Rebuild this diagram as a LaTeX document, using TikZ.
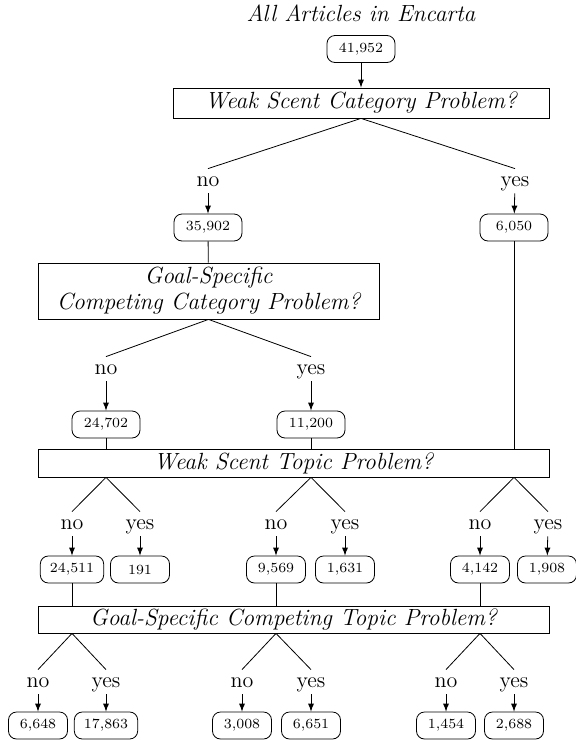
\documentclass[tikz,border=0pt]{standalone}
\usepackage{fontspec}
\begin{document}
\begin{tikzpicture}[x=0.5pt, y=-0.5pt,
  cnt/.style={draw, rounded corners=4pt, minimum width=29.5pt, minimum height=13.5pt, inner xsep=4.75pt, inner ysep=0pt, font=\fontsize{7}{8}\selectfont\addfontfeature{LetterSpace=5.7}},
  wcnt/.style={cnt, minimum width=34pt},
  qst/.style={draw, inner sep=0pt, align=center, font=\fontsize{11.7}{13}\selectfont\itshape},
  ans/.style={inner sep=1pt, text height=7.5pt, text depth=2.5pt, font=\fontsize{11}{13}\selectfont}]
\useasboundingbox (0,0) rectangle (575,740);
\node[font=\fontsize{11.7}{13}\selectfont\itshape] (ttl) at (361,13){All Articles in Encarta};
\node[wcnt] (num0) at (361,49){41,952};
\node[qst, minimum width=188pt, minimum height=15pt] (q0) at (361,103){Weak Scent Category Problem?};
\draw[-latex](num0) -- (q0);
\node[ans] (ans0) at (208,181){no};
\node[ans] (ans1) at (515,181){yes};
\draw[](q0.south) -- (ans0.north);
\draw[](q0.south) -- (ans1.north);
\node[wcnt] (num1) at (208,227.5){35,902};
\node[wcnt] (num2) at (514,227.5){6,050};
\draw[-latex](ans0) -- (num1);
\draw[-latex](ans1) -- (num2);
\node[qst, minimum width=170.5pt, minimum height=28pt] (q1) at (208.5,291){Goal-Specific\\Competing Category Problem?};
\draw[](num1) -- (q1);
\node[ans] (ans2) at (106,369){no};
\node[ans] (ans3) at (311,369){yes};
\draw[](q1.south) -- (ans2.north);
\draw[](q1.south) -- (ans3.north);
\node[wcnt] (num3) at (106,424.5){24,702};
\node[wcnt] (num4) at (311,424.5){11,200};
\draw[-latex](ans2) -- (num3);
\draw[-latex](ans3) -- (num4);
\node[qst, minimum width=255.5pt, minimum height=14pt] (q2) at (293.5,463){Weak Scent Topic Problem?};
\draw[](num3) -- (num3 |- q2.north);
\draw[](num4) -- (num4 |- q2.north);
\draw[](num2) -- (num2 |- q2.north);
\node[ans] (ans4) at (72,524){no};
\node[ans] (ans5) at (140,524){yes};
\node[ans] (ans6) at (276,524){no};
\node[ans] (ans7) at (345,524){yes};
\node[ans] (ans8) at (480,524){no};
\node[ans] (ans9) at (548,524){yes};
\draw[](num3 |- q2.south) -- (ans4.north);
\draw[](num3 |- q2.south) -- (ans5.north);
\draw[](num4 |- q2.south) -- (ans6.north);
\draw[](num4 |- q2.south) -- (ans7.north);
\draw[](num2 |- q2.south) -- (ans8.north);
\draw[](num2 |- q2.south) -- (ans9.north);
\node[cnt] (num5) at (72,569.5){24,511};
\node[cnt] (num6) at (140,569.5){191};
\node[cnt] (num7) at (276,569.5){9,569};
\node[cnt] (num8) at (345,569.5){1,631};
\node[cnt] (num9) at (480,569.5){4,142};
\node[cnt] (num10) at (547,569.5){1,908};
\draw[-latex](ans4) -- (num5);
\draw[-latex](ans5) -- (num6);
\draw[-latex](ans6) -- (num7);
\draw[-latex](ans7) -- (num8);
\draw[-latex](ans8) -- (num9);
\draw[-latex](ans9) -- (num10);
\node[qst, minimum width=255.5pt, minimum height=13.5pt] (q3) at (293.5,619.5){Goal-Specific Competing Topic Problem?};
\draw[](num5) -- (num5 |- q3.north);
\draw[](num7) -- (num7 |- q3.north);
\draw[](num9) -- (num9 |- q3.north);
\node[ans] (ans10) at (38,682){no};
\node[ans] (ans11) at (106,682){yes};
\node[ans] (ans12) at (242,682){no};
\node[ans] (ans13) at (311,682){yes};
\node[ans] (ans14) at (446,682){no};
\node[ans] (ans15) at (514,682){yes};
\draw[](num5 |- q3.south) -- (ans10.north);
\draw[](num5 |- q3.south) -- (ans11.north);
\draw[](num7 |- q3.south) -- (ans12.north);
\draw[](num7 |- q3.south) -- (ans13.north);
\draw[](num9 |- q3.south) -- (ans14.north);
\draw[](num9 |- q3.south) -- (ans15.north);
\node[cnt] (num11) at (38,725.5){6,648};
\node[cnt] (num12) at (106,725.5){17,863};
\node[cnt] (num13) at (242,725.5){3,008};
\node[cnt] (num14) at (311,725.5){6,651};
\node[cnt] (num15) at (446,725.5){1,454};
\node[cnt] (num16) at (514,725.5){2,688};
\draw[-latex](ans10) -- (num11);
\draw[-latex](ans11) -- (num12);
\draw[-latex](ans12) -- (num13);
\draw[-latex](ans13) -- (num14);
\draw[-latex](ans14) -- (num15);
\draw[-latex](ans15) -- (num16);
\end{tikzpicture}
\end{document}
